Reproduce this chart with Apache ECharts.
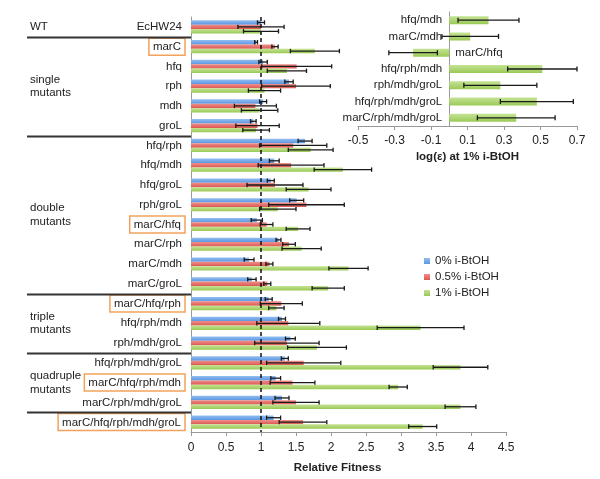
<!doctype html>
<html lang="en">
<head>
<meta charset="UTF-8">
<title>Relative Fitness</title>
<style>html,body{margin:0;padding:0;background:#fff}</style>
</head>
<body>
<script src="https://cdn.jsdelivr.net/npm/echarts@6/dist/echarts.min.js"></script>
<div id="main" style="width:600px;height:479px"></div>
<script>
// strains, top to bottom
var strains = ['EcHW24', 'marC', 'hfq', 'rph', 'mdh', 'groL',
    'hfq/rph', 'hfq/mdh', 'hfq/groL', 'rph/groL', 'marC/hfq', 'marC/rph', 'marC/mdh', 'marC/groL',
    'marC/hfq/rph', 'hfq/rph/mdh', 'rph/mdh/groL',
    'hfq/rph/mdh/groL', 'marC/hfq/rph/mdh', 'marC/rph/mdh/groL',
    'marC/hfq/rph/mdh/groL'];
var boxed = ['marC', 'marC/hfq', 'marC/hfq/rph', 'marC/hfq/rph/mdh', 'marC/hfq/rph/mdh/groL'];

// relative fitness and error per i-BtOH level
var fit0  = [1.00, 0.93, 1.03, 1.40, 1.03, 0.89, 1.63, 1.19, 1.14, 1.51, 0.94, 1.25, 0.83, 0.87, 1.11, 1.30, 1.42, 1.34, 1.21, 1.30, 1.18];
var err0  = [0.05, 0.02, 0.06, 0.06, 0.05, 0.04, 0.10, 0.07, 0.05, 0.10, 0.08, 0.035, 0.07, 0.06, 0.05, 0.05, 0.07, 0.05, 0.07, 0.10, 0.10];
var fit05 = [1.00, 1.20, 1.51, 1.50, 0.92, 0.95, 1.46, 1.43, 1.20, 1.65, 1.08, 1.40, 1.12, 1.09, 1.29, 1.39, 1.37, 1.61, 1.45, 1.50, 1.60];
var err05 = [0.33, 0.045, 0.50, 0.49, 0.30, 0.31, 0.48, 0.47, 0.40, 0.54, 0.09, 0.09, 0.05, 0.05, 0.30, 0.45, 0.46, 0.53, 0.32, 0.33, 0.34];
var fit1  = [1.00, 1.77, 1.37, 1.05, 0.98, 0.93, 1.71, 2.17, 1.68, 1.24, 1.53, 1.58, 2.25, 1.96, 1.22, 3.28, 1.80, 3.85, 2.96, 3.85, 3.31];
var err1  = [0.25, 0.35, 0.28, 0.23, 0.26, 0.19, 0.32, 0.41, 0.32, 0.26, 0.17, 0.28, 0.28, 0.23, 0.11, 0.62, 0.42, 0.39, 0.13, 0.22, 0.20];

// inset: log(epsilon) at 1% i-BtOH
var insetCats = ['hfq/mdh', 'marC/mdh', 'marC/hfq', 'hfq/rph/mdh', 'rph/mdh/groL', 'hfq/rph/mdh/groL', 'marC/rph/mdh/groL'];
var logEps = [0.215, 0.115, -0.198, 0.51, 0.28, 0.48, 0.367];
var logErr = [0.167, 0.155, 0.133, 0.19, 0.20, 0.20, 0.213];

// group labels: [text, first index, last index]; separators after these indices
var groups = [['WT', 0, 0], ['single\nmutants', 1, 5], ['double\nmutants', 6, 13], ['triple\nmutants', 14, 16], ['quadruple\nmutants', 17, 19]];
var separators = [0, 5, 13, 16, 19];

var FONT = 'Liberation Sans, Arial, sans-serif';
var BW = 4.4;
var INSET_LEFT = 358, INSET_W = 219, INSET_MIN = -0.5, INSET_MAX = 0.7;

function grad(a, b) {
    return new echarts.graphic.LinearGradient(0, 0, 0, 1, [{offset: 0, color: a}, {offset: 1, color: b}]);
}
var blue = grad('#93bdf0', '#5a97e2');
var red = grad('#ef8f8a', '#dc5752');
var green = grad('#c4e394', '#9ac955');

function errBars(offset, cap) {
    return function (params, api) {
        var v = api.value(0), c = api.value(1), e = api.value(2);
        var p0 = api.coord([v - e, c]);
        var p1 = api.coord([v + e, c]);
        var y = p0[1] + offset;
        var st = {stroke: '#1a1a1a', lineWidth: 1.3};
        return {type: 'group', children: [
            {type: 'line', shape: {x1: p0[0], y1: y, x2: p1[0], y2: y}, style: st},
            {type: 'line', shape: {x1: p0[0], y1: y - cap, x2: p0[0], y2: y + cap}, style: st},
            {type: 'line', shape: {x1: p1[0], y1: y - cap, x2: p1[0], y2: y + cap}, style: st}
        ]};
    };
}
function zip(v, e) { return v.map(function (x, i) { return [x, i, e[i]]; }); }

// inset labels sit next to the zero line, not the grid edge
var zeroShift = (0 - INSET_MIN) / (INSET_MAX - INSET_MIN) * INSET_W;

var chart = echarts.init(document.getElementById('main'));

var option = {
    animation: false,
    textStyle: {fontFamily: FONT},
    grid: [
        {left: 191, right: 94, top: 17, bottom: 47},
        {left: INSET_LEFT, width: INSET_W, top: 12, height: 114}
    ],
    legend: {
        data: ['0% i-BtOH', '0.5% i-BtOH', '1% i-BtOH'],
        orient: 'vertical', left: 419, top: 250,
        itemWidth: 6, itemHeight: 6, itemGap: 4, icon: 'rect',
        textStyle: {fontSize: 11.5, color: '#222'}
    },
    xAxis: [
        {
            gridIndex: 0, type: 'value', min: 0, max: 4.5, interval: 0.5,
            axisLine: {show: true, lineStyle: {color: '#999'}},
            axisTick: {show: true, length: 4, lineStyle: {color: '#999'}},
            splitLine: {show: false},
            axisLabel: {color: '#222', fontSize: 12, margin: 10},
            name: 'Relative Fitness', nameLocation: 'middle', nameGap: 30,
            nameTextStyle: {fontWeight: 'bold', fontSize: 11.5, color: '#222', padding: [0, 22, 0, 0]}
        },
        {gridIndex: 1, type: 'value', min: INSET_MIN, max: INSET_MAX, show: false, position: 'top'},
        {
            gridIndex: 1, type: 'value', min: 0, max: 1.2, interval: 0.2, position: 'bottom',
            axisLine: {show: true, onZero: false, lineStyle: {color: '#999'}},
            axisTick: {show: true, length: 4, lineStyle: {color: '#999'}},
            splitLine: {show: false},
            axisLabel: {color: '#222', fontSize: 12, margin: 9, formatter: function (v) { return (v + INSET_MIN).toFixed(1); }},
            name: 'log(ε) at 1% i-BtOH', nameLocation: 'middle', nameGap: 25,
            nameTextStyle: {fontWeight: 'bold', fontSize: 11.5, color: '#222'}
        }
    ],
    yAxis: [
        {
            gridIndex: 0, type: 'category', data: strains, inverse: true,
            axisLine: {lineStyle: {color: '#999'}},
            axisTick: {length: 3, lineStyle: {color: '#999'}},
            axisLabel: {
                margin: 6, interval: 0,
                formatter: function (v) { return boxed.indexOf(v) >= 0 ? '{b|' + v + '}' : '{n|' + v + '}'; },
                rich: {
                    b: {fontSize: 11.5, color: '#222', fontFamily: FONT, borderColor: '#f2a25c', borderWidth: 1.5, padding: [3, 4, 2, 4]},
                    n: {fontSize: 11.5, color: '#222', fontFamily: FONT, padding: [0, 3, 0, 0]}
                }
            }
        },
        {
            gridIndex: 1, type: 'category', data: insetCats, inverse: true,
            axisLine: {onZero: true, onZeroAxisIndex: 1, lineStyle: {color: '#999'}},
            axisTick: {length: 3, lineStyle: {color: '#999'}},
            axisLabel: {
                margin: 7 - zeroShift, interval: 0, fontSize: 11.5, color: '#222',
                formatter: function (v) { return v === 'marC/hfq' ? '' : v; }
            }
        }
    ],
    series: [
        {
            name: '0% i-BtOH', type: 'bar', xAxisIndex: 0, yAxisIndex: 0, data: fit0,
            barWidth: BW, barGap: '0%', itemStyle: {color: blue},
            markLine: {
                silent: true, symbol: 'none', label: {show: false},
                lineStyle: {color: '#111', type: [4, 3], width: 1.5},
                data: [{xAxis: 1}]
            }
        },
        {name: '0.5% i-BtOH', type: 'bar', xAxisIndex: 0, yAxisIndex: 0, data: fit05, barWidth: BW, barGap: '0%', itemStyle: {color: red}},
        {name: '1% i-BtOH', type: 'bar', xAxisIndex: 0, yAxisIndex: 0, data: fit1, barWidth: BW, barGap: '0%', itemStyle: {color: green}},
        {type: 'custom', xAxisIndex: 0, yAxisIndex: 0, z: 5, renderItem: errBars(-BW, 2.2), data: zip(fit0, err0), encode: {x: 0, y: 1}},
        {type: 'custom', xAxisIndex: 0, yAxisIndex: 0, z: 5, renderItem: errBars(0, 2.2), data: zip(fit05, err05), encode: {x: 0, y: 1}},
        {type: 'custom', xAxisIndex: 0, yAxisIndex: 0, z: 5, renderItem: errBars(BW, 2.2), data: zip(fit1, err1), encode: {x: 0, y: 1}},
        {
            name: 'inset', type: 'bar', xAxisIndex: 1, yAxisIndex: 1, barWidth: 8,
            itemStyle: {color: green},
            data: logEps.map(function (v, i) {
                if (insetCats[i] !== 'marC/hfq') return v;
                return {value: v, label: {show: true, position: 'right', distance: 6, formatter: insetCats[i], fontSize: 11.5, color: '#222'}};
            })
        },
        {type: 'custom', xAxisIndex: 1, yAxisIndex: 1, z: 5, renderItem: errBars(0, 2.5), data: zip(logEps, logErr), encode: {x: 0, y: 1}}
    ]
};
chart.setOption(option);

// group labels and separators on the left, placed from the category axis
var gx = chart.convertToPixel({xAxisIndex: 0}, 0);
function rowY(i) { return chart.convertToPixel({yAxisIndex: 0}, i); }
var g = [];
separators.forEach(function (i) {
    var y = Math.round((rowY(i) + rowY(i + 1)) / 2) + 0.5;
    g.push({type: 'line', shape: {x1: 27, y1: y, x2: gx, y2: y}, style: {stroke: '#333', lineWidth: 1.8}, z: 10});
});
groups.forEach(function (gr) {
    var yc = (rowY(gr[1]) + rowY(gr[2])) / 2;
    g.push({type: 'text', x: 30, y: yc, style: {text: gr[0], fill: '#222', fontSize: 11.5, fontFamily: FONT, lineHeight: 13.5, align: 'left', verticalAlign: 'middle'}, z: 10});
});
chart.setOption({graphic: g});
</script>
</body>
</html>
